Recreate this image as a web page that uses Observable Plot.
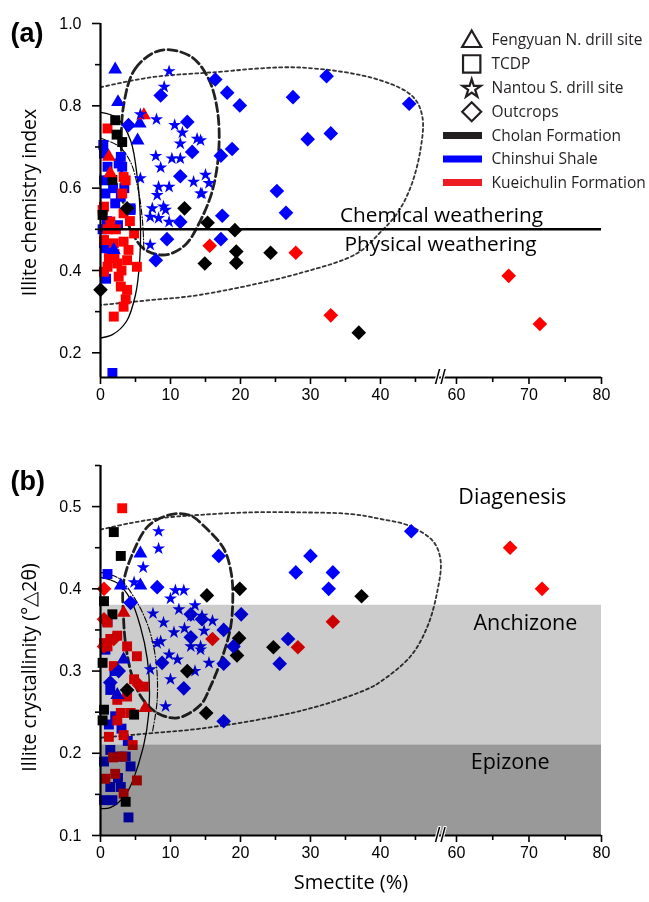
<!DOCTYPE html>
<html><head><meta charset="utf-8">
<script src="https://cdn.jsdelivr.net/npm/d3@7"></script>
<script src="https://cdn.jsdelivr.net/npm/@observablehq/plot@0.6"></script>
<style>
body{margin:0;background:#fff;}
#wrap{position:relative;width:649px;height:902px;overflow:hidden;background:#fff;}
#wrap svg{display:block;}
#overlay{position:absolute;left:0;top:0;pointer-events:none;}
</style></head><body><div id="wrap"><div id="pa"></div><div id="pb"></div></div>
<script>
// ---------- categories ----------
const formationNames = ["Cholan Formation", "Chinshui Shale", "Kueichulin Formation"];
const formationColors = ["#000000", "#0000ff", "#ff0000"];
const legendColors = ["#231f20", "#0000ff", "#ed1c24"];
const siteNames = ["Fengyuan N. drill site", "TCDP", "Nantou S. drill site", "Outcrops"];

// ---------- axes ----------
const xTickValues = [0, 10, 20, 30, 40, 60, 70, 80];
const xMinorValues = [5, 15, 25, 35, 45, 65, 75];
const aYTicks = [0.2, 0.4, 0.6, 0.8, 1.0];
const aYMinor = [0.3, 0.5, 0.7, 0.9];
const bYTicks = [0.1, 0.2, 0.3, 0.4, 0.5];
const bYMinor = [0.15, 0.25, 0.35, 0.45, 0.55];
const aYDomain = [0.14, 1.0];
const bYDomain = [0.1, 0.55];
const xMax = 80;
const breakLeft = 50, breakRight = 60, rightOffset = 50.86, rightStretch = 1.036;
const weatheringLevel = 0.5;
const zones = [
  {name: "Anchizone", lo: 0.21, hi: 0.38, fill: "#cccccc"},
  {name: "Epizone", lo: 0.10, hi: 0.21, fill: "#999999"}
];
const zoneLabels = [
  {name: "Diagenesis", x: 67.7, y: 0.512},
  {name: "Anchizone", x: 69.5, y: 0.358},
  {name: "Epizone", x: 67.4, y: 0.189}
];

// ---------- panel (a): illite chemistry index ----------
const aFengBlue = [[2.1,0.888],[2.5,0.809],[5.3,0.716],[5.6,0.757],[1.9,0.450]];
const aFengRed = [[1.2,0.676],[1.4,0.636],[6.2,0.777]];
const aTcdpBlue = [[0.5,0.684],[2.9,0.676],[3.1,0.652],[1.0,0.652],[0.5,0.619],[0.7,0.587],[2.9,0.579],[4.3,0.547],[2.1,0.563],[4.3,0.551],[0.7,0.454],[0.5,0.466],[1.4,0.450],[0.3,0.50],[1.7,0.151],[2.6,0.66],[0.4,0.705],[3.4,0.600],[1.8,0.60],[0.9,0.52],[2.5,0.51],[0.8,0.38]];
const aTcdpRed = [[1.0,0.745],[3.6,0.619],[3.1,0.587],[0.5,0.555],[3.3,0.627],[0.3,0.547],[3.3,0.539],[1.4,0.519],[0.5,0.474],[1.9,0.466],[3.3,0.470],[4.8,0.490],[1.0,0.409],[2.4,0.417],[3.8,0.425],[5.2,0.409],[2.9,0.361],[3.8,0.353],[3.3,0.312],[1.9,0.288],[0.5,0.397],[2.0,0.44],[3.0,0.40],[4.0,0.45],[1.2,0.43],[2.6,0.385],[3.6,0.33],[1.0,0.50],[2.2,0.50],[4.2,0.52]];
const aTcdpBlack = [[2.1,0.765],[2.3,0.730],[3.1,0.712],[1.7,0.620],[0.3,0.535]];
const aNantouBlue = [[9.8,0.884],[9.1,0.846],[5.7,0.779],[8.0,0.767],[10.6,0.753],[11.7,0.735],[13.8,0.720],[11.4,0.708],[7.9,0.678],[10.2,0.672],[11.4,0.672],[8.6,0.650],[5.7,0.624],[8.3,0.603],[9.8,0.603],[13.3,0.615],[15.0,0.632],[8.1,0.583],[14.3,0.587],[7.4,0.551],[9.0,0.555],[7.1,0.530],[9.3,0.547],[8.3,0.527],[9.8,0.518],[7.1,0.462],[14.3,0.716],[15.5,0.612],[14.5,0.587]];
const aOutBlack = [[3.8,0.551],[12.0,0.551],[15.3,0.516],[19.2,0.498],[19.4,0.446],[19.4,0.419],[14.9,0.417],[24.3,0.443],[36.9,0.249],[0.0,0.353]];
const aOutBlue = [[16.4,0.864],[18.1,0.832],[19.9,0.801],[27.5,0.821],[32.3,0.872],[29.6,0.719],[32.9,0.733],[18.8,0.695],[17.2,0.679],[25.2,0.593],[26.5,0.540],[17.4,0.533],[17.2,0.476],[44.1,0.805],[11.4,0.518],[9.5,0.476],[7.9,0.425],[12.4,0.761],[13.1,0.688],[11.4,0.629],[8.6,0.825],[4.0,0.753]];
const aOutRed = [[15.6,0.46],[27.9,0.443],[32.9,0.291],[67.2,0.387],[71.5,0.270]];

// outlines (a)
const aDotted = [[0,0.845],[7.1,0.869],[15.7,0.881],[28.6,0.893],[40,0.862],[44.7,0.821],[46,0.772],[45.7,0.692],[44.3,0.602],[42.4,0.539],[40,0.493],[36.7,0.442],[28.6,0.394],[14.3,0.341],[7.1,0.328],[0,0.316]];
const aDashed = [[3.3,0.801],[5.0,0.891],[8.6,0.935],[12.9,0.920],[15.4,0.867],[16.7,0.789],[16.9,0.692],[16.0,0.595],[14.3,0.522],[12.1,0.462],[9.3,0.438],[6.4,0.450],[4.7,0.486],[3.4,0.547],[3.0,0.668]];
const aSolid = [[0,0.784],[2.4,0.770],[4.3,0.716],[5.3,0.619],[5.7,0.522],[5.6,0.425],[5.0,0.341],[3.7,0.276],[1.7,0.244],[0,0.236]];
const aThin = [[0,0.721],[2.6,0.702],[4.3,0.663],[5.4,0.595],[6.0,0.52],[6.2,0.45]];

// ---------- panel (b): illite crystallinity ----------
const bFengBlue = [[5.7,0.443],[5.7,0.404],[2.9,0.404],[3.3,0.314],[2.4,0.271]];
const bFengRed = [[3.3,0.371],[6.4,0.255]];
const bTcdpBlack = [[1.9,0.469],[2.9,0.440],[0.5,0.385],[1.7,0.369],[0.5,0.253],[4.8,0.247],[3.6,0.141],[0.3,0.31],[0.3,0.24]];
const bTcdpBlue = [[1.0,0.418],[1.4,0.204],[2.4,0.196],[4.3,0.184],[1.4,0.159],[2.9,0.159],[0.5,0.143],[1.7,0.143],[4.0,0.122],[2.1,0.245],[1.4,0.277],[0.7,0.326],[3.6,0.196],[2.0,0.30],[1.0,0.36],[3.0,0.23],[0.5,0.19],[2.5,0.17],[3.9,0.215],[1.2,0.235]];
const bTcdpRed = [[3.1,0.498],[1.0,0.359],[1.4,0.339],[0.5,0.334],[1.0,0.330],[2.4,0.343],[3.8,0.330],[5.2,0.318],[1.9,0.306],[4.8,0.290],[6.2,0.281],[2.9,0.249],[4.3,0.249],[1.2,0.220],[3.3,0.222],[3.1,0.196],[2.1,0.175],[5.2,0.167],[0.7,0.169],[3.3,0.151],[2.4,0.265],[3.8,0.269],[2.4,0.24],[4.6,0.21],[1.8,0.195]];
const bNantouBlue = [[8.3,0.470],[8.3,0.449],[6.1,0.426],[4.8,0.408],[10.7,0.398],[11.9,0.398],[10.0,0.388],[11.2,0.375],[12.9,0.367],[14.5,0.367],[9.0,0.359],[10.5,0.347],[8.6,0.336],[16.0,0.361],[14.8,0.349],[14.3,0.330],[15.5,0.310],[8.1,0.334],[11.0,0.314],[7.1,0.302],[10.0,0.290],[9.3,0.257],[12.9,0.330],[14.3,0.326],[13.5,0.38],[12.0,0.352],[9.8,0.32],[7.5,0.37],[13.5,0.30]];
const bOutBlack = [[15.2,0.392],[19.9,0.400],[37.3,0.391],[19.8,0.340],[19.5,0.319],[24.7,0.329],[15.1,0.249],[12.4,0.300],[3.8,0.277]];
const bOutBlue = [[16.9,0.440],[30.0,0.440],[27.9,0.420],[33.2,0.420],[32.6,0.400],[20.1,0.369],[17.6,0.350],[19.0,0.330],[26.8,0.339],[25.6,0.309],[17.6,0.309],[17.6,0.239],[44.4,0.470],[11.9,0.279],[8.8,0.310],[12.9,0.341],[8.1,0.402],[12.9,0.369],[14.5,0.363],[4.3,0.383],[1.4,0.286],[2.6,0.30]];
const bOutRed = [[0.5,0.400],[0.5,0.363],[0.5,0.33],[1.9,0.339],[5.5,0.283],[16.0,0.339],[28.2,0.329],[33.2,0.360],[67.4,0.450],[71.8,0.400]];

// outlines (b)
const bDotted = [[0,0.472],[4.3,0.480],[8.6,0.486],[14.3,0.490],[21.4,0.493],[28.6,0.493],[35.7,0.491],[40,0.485],[44.3,0.476],[47.6,0.457],[48.6,0.434],[48.1,0.396],[46.7,0.354],[44.3,0.318],[40,0.287],[38.1,0.278],[31,0.257],[23.9,0.243],[14.3,0.230],[8.1,0.225],[0,0.219]];
const bDashed = [[3.3,0.408],[4.7,0.445],[6.9,0.477],[10.4,0.491],[12.9,0.489],[14.7,0.477],[17.6,0.449],[18.7,0.418],[18.9,0.387],[18.6,0.354],[17.6,0.322],[15.7,0.281],[14.3,0.259],[11,0.243],[8.1,0.249],[6.1,0.265],[4.7,0.289],[3.7,0.326],[3.3,0.363]];
const bSolid = [[0,0.414],[2.4,0.407],[4.3,0.387],[5.7,0.354],[6.7,0.314],[7,0.269],[6.6,0.228],[5.4,0.186],[3.7,0.151],[1.4,0.134],[0,0.133]];
const bThin = [[0,0.420],[2.6,0.413],[4.7,0.391],[6.7,0.357],[7.9,0.314],[8.1,0.265],[7.4,0.225]];

// ---------- helpers ----------
const brk = x => x <= breakLeft ? x : rightOffset + (x - breakRight) * rightStretch;
const unbrk = t => t <= breakLeft ? t : breakRight + (t - rightOffset) / rightStretch;
const pts = (arr, f) => arr.map(([x, y]) => ({x: brk(x), y, color: formationColors[f]}));
const line = arr => arr.map(([x, y]) => [brk(x), y]);

const SANS = "'Open Sans', 'Noto Sans', sans-serif";
const ARIAL = "'Liberation Sans', Arial, sans-serif";

function panel({height, marginTop, marginBottom, yDomain, yTicks, yMinor, ylabel, ylabelDy = 0, tag, tagDy, sets, outlines, under = [], over = [], xlabel}) {
  const y0 = yDomain[0];
  const marks = [];
  marks.push(...under);
  for (const o of outlines) {
    marks.push(Plot.line(line(o.data), {curve: o.curve, stroke: o.stroke || "#222", strokeWidth: o.w, strokeDasharray: o.dash, clip: true}));
  }
  for (const s of sets) {
    marks.push(Plot.dot(s.data, {x: "x", y: "y", fill: "color", symbol: s.symbol, r: s.r, stroke: "none"}));
  }
  marks.push(...over);
  // axes
  marks.push(
    Plot.ruleX([0], {y1: yDomain[0], y2: yDomain[1], stroke: "#000", strokeWidth: 2.2}),
    Plot.ruleY([y0], {x1: 0, x2: brk(xMax), stroke: "#000", strokeWidth: 2.2}),
    Plot.axisX(xTickValues.map(brk), {anchor: "bottom", tickSize: 7, tickPadding: 4, strokeWidth: 1.6, fontSize: 16, fontFamily: ARIAL, tickFormat: t => String(Math.round(unbrk(t))), label: null}),
    Plot.axisX(xMinorValues.map(brk), {anchor: "bottom", tickSize: 5, strokeWidth: 1.6, tickFormat: () => "", label: null}),
    Plot.axisY(yTicks, {anchor: "left", tickSize: 8, tickPadding: 11, strokeWidth: 1.6, fontSize: 16, fontFamily: ARIAL, tickFormat: d3.format(".1f"), label: null}),
    Plot.axisY(yMinor, {anchor: "left", tickSize: 5, strokeWidth: 1.6, tickFormat: () => "", label: null}),
    Plot.text(["//"], {x: brk(breakRight) - 2.3, y: y0, fontSize: 20, fontFamily: ARIAL, fill: "#000", stroke: "#fff", strokeWidth: 2, paintOrder: "stroke"}),
    Plot.text([ylabel], {frameAnchor: "left", textAnchor: "middle", dx: -71, dy: ylabelDy, rotate: -90, fontSize: 19.5, fontFamily: SANS, fill: "#000"}),
    Plot.text([tag], {frameAnchor: "top-left", textAnchor: "start", dx: -90, dy: tagDy, fontSize: 27, fontWeight: "bold", fontFamily: ARIAL, fill: "#000"})
  );
  if (xlabel) marks.push(Plot.text([xlabel], {frameAnchor: "bottom", textAnchor: "middle", dy: 53, fontSize: 20, fontFamily: SANS, fill: "#000"}));
  return Plot.plot({
    width: 649, height, marginLeft: 100, marginRight: 48, marginTop, marginBottom,
    x: {type: "linear", domain: [0, brk(xMax)], axis: null},
    y: {type: "linear", domain: yDomain, axis: null},
    color: {type: "identity"},
    style: {background: "transparent", color: "#000", overflow: "visible"},
    marks
  });
}

const SQ = d3.symbolSquare, TRI = d3.symbolTriangle2, STAR = d3.symbolStar, DIA = d3.symbolDiamond2;

const chartA = panel({
  height: 430, marginTop: 23, marginBottom: 53, yDomain: aYDomain, yTicks: aYTicks, yMinor: aYMinor,
  ylabel: "Illite chemistry index", ylabelDy: 2, tag: "(a)", tagDy: -1,
  outlines: [
    {data: aDotted, curve: "catmull-rom", w: 1.8, dash: "3,3", stroke: "#333"},
    {data: aDashed, curve: "catmull-rom-closed", w: 2.8, dash: "9,4", stroke: "#222"},
    {data: aSolid, curve: "catmull-rom", w: 1.3, stroke: "#000"},
    {data: aThin, curve: "catmull-rom", w: 1.1, dash: "6,2,1,2", stroke: "#000"}
  ],
  sets: [
    {data: pts(aTcdpBlue, 1), symbol: SQ, r: 5.6},
    {data: pts(aTcdpRed, 2), symbol: SQ, r: 5.6},
    {data: pts(aTcdpBlack, 0), symbol: SQ, r: 5.6},
    {data: pts(aFengBlue, 1), symbol: TRI, r: 6.6},
    {data: pts(aFengRed, 2), symbol: TRI, r: 6.6},
    {data: pts(aNantouBlue, 1), symbol: STAR, r: 4.1},
    {data: pts(aOutBlack, 0), symbol: DIA, r: 6.6},
    {data: pts(aOutBlue, 1), symbol: DIA, r: 6.6},
    {data: pts(aOutRed, 2), symbol: DIA, r: 6.6}
  ],
  over: [
    Plot.ruleY([weatheringLevel], {x1: 0, x2: brk(xMax), stroke: "#000", strokeWidth: 2.6}),
    Plot.text([{t: "Chemical weathering", y: weatheringLevel}], {frameAnchor: "right", textAnchor: "middle", y: "y", text: "t", dx: -160, dy: -14, fontSize: 20.8, fontFamily: SANS, fill: "#000"}),
    Plot.text([{t: "Physical weathering", y: weatheringLevel}], {frameAnchor: "right", textAnchor: "middle", y: "y", text: "t", dx: -161, dy: 15, fontSize: 20.8, fontFamily: SANS, fill: "#000"})
  ]
});

const chartB = panel({
  height: 472, marginTop: 35, marginBottom: 67, yDomain: bYDomain, yTicks: bYTicks, yMinor: bYMinor,
  ylabel: "Illite crystallinity (°\u25B32θ)", ylabelDy: 17, tag: "(b)", tagDy: 5, xlabel: "Smectite (%)",
  outlines: [
    {data: bDotted, curve: "catmull-rom", w: 1.8, dash: "3,3", stroke: "#333"},
    {data: bDashed, curve: "catmull-rom-closed", w: 2.8, dash: "9,4", stroke: "#222"},
    {data: bSolid, curve: "catmull-rom", w: 1.3, stroke: "#000"},
    {data: bThin, curve: "catmull-rom", w: 1.1, dash: "6,2,1,2", stroke: "#000"}
  ],
  sets: [
    {data: pts(bTcdpBlue, 1), symbol: SQ, r: 5.6},
    {data: pts(bTcdpRed, 2), symbol: SQ, r: 5.6},
    {data: pts(bTcdpBlack, 0), symbol: SQ, r: 5.6},
    {data: pts(bFengBlue, 1), symbol: TRI, r: 6.6},
    {data: pts(bFengRed, 2), symbol: TRI, r: 6.6},
    {data: pts(bNantouBlue, 1), symbol: STAR, r: 4.1},
    {data: pts(bOutBlack, 0), symbol: DIA, r: 6.6},
    {data: pts(bOutBlue, 1), symbol: DIA, r: 6.6},
    {data: pts(bOutRed, 2), symbol: DIA, r: 6.6}
  ],
  over: [
    Plot.rect(zones, {x1: 0, x2: brk(xMax), y1: "lo", y2: "hi", fill: "fill", mixBlendMode: "multiply"}),
    Plot.text(zoneLabels, {x: d => brk(d.x), y: "y", text: "name", fontSize: 21.5, fontFamily: SANS, fill: "#000"})
  ]
});

document.getElementById("pa").append(chartA);
document.getElementById("pb").append(chartB);

// ---------- legend overlay ----------
const legendSymbols = [d3.symbolTriangle2, d3.symbolSquare, d3.symbolStar, d3.symbolDiamond2];
const legendSizes = [260, 300, 105, 230];
const ov = d3.select("#wrap").append("svg").attr("id", "overlay").attr("width", 649).attr("height", 902);
const lg = ov.append("g").attr("font-family", SANS).attr("font-size", 15.5).attr("fill", "#231f20");
siteNames.forEach((name, i) => {
  const cy = 40 + i * 23.9;
  lg.append("path").attr("d", d3.symbol(legendSymbols[i], legendSizes[i])()).attr("transform", `translate(471.7,${cy + (i === 0 ? 1.5 : i === 2 ? 1 : 0)})`)
    .attr("fill", "none").attr("stroke", "#231f20").attr("stroke-width", 2.2);
  lg.append("text").attr("x", 491.5).attr("y", cy).attr("dy", "0.35em").text(name);
});
formationNames.forEach((name, i) => {
  const cy = 135.5 + i * 23.5;
  lg.append("rect").attr("x", 443).attr("y", cy - 3.5).attr("width", 39).attr("height", 7).attr("fill", legendColors[i]);
  lg.append("text").attr("x", 491.5).attr("y", cy).attr("dy", "0.35em").text(name);
});
</script>
</body></html>
